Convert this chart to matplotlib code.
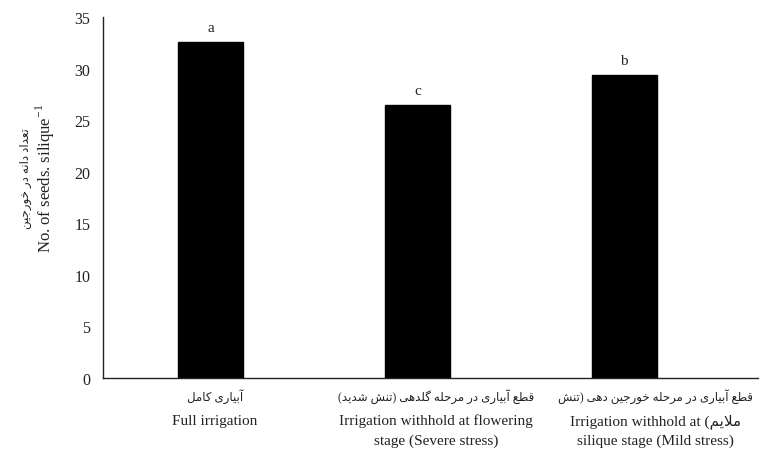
import re
import matplotlib
matplotlib.use("Agg")
import matplotlib.pyplot as plt
import matplotlib.transforms as mtransforms

# data
categories_fa = ["آبیاری کامل",
                 "قطع آبیاری در مرحله گلدهی (تنش شدید)",
                 "قطع آبیاری در مرحله خورجین دهی (تنش"]
categories_en = [["Full irrigation"],
                 ["Irrigation withhold at flowering", "stage (Severe stress)"],
                 ["Irrigation withhold at", "silique stage (Mild stress)"]]
third_tail_fa = "ملایم)"
seeds_per_silique = [32.6, 26.5, 29.4]
group_letters = ["a", "c", "b"]
yticks = [0, 5, 10, 15, 20, 25, 30, 35]
ylabel_fa = "تعداد دانه در خورجین"
ylabel_en = r"No. of seeds. silique$^{\mathrm{-1}}$"

# minimal Persian shaping (presentation forms) + right-to-left ordering,
# since matplotlib lays glyphs out left to right without shaping
FORMS = {
    'ا': ('\uFE8D', '\uFE8E'), 'آ': ('\uFE81', '\uFE82'),
    'د': ('\uFEA9', '\uFEAA'), 'ر': ('\uFEAD', '\uFEAE'),
    'و': ('\uFEED', '\uFEEE'),
    'ب': ('\uFE8F', '\uFE90', '\uFE91', '\uFE92'),
    'ت': ('\uFE95', '\uFE96', '\uFE97', '\uFE98'),
    'ج': ('\uFE9D', '\uFE9E', '\uFE9F', '\uFEA0'),
    'ح': ('\uFEA1', '\uFEA2', '\uFEA3', '\uFEA4'),
    'خ': ('\uFEA5', '\uFEA6', '\uFEA7', '\uFEA8'),
    'ش': ('\uFEB5', '\uFEB6', '\uFEB7', '\uFEB8'),
    'ط': ('\uFEC1', '\uFEC2', '\uFEC3', '\uFEC4'),
    'ع': ('\uFEC9', '\uFECA', '\uFECB', '\uFECC'),
    'ق': ('\uFED5', '\uFED6', '\uFED7', '\uFED8'),
    'ل': ('\uFEDD', '\uFEDE', '\uFEDF', '\uFEE0'),
    'م': ('\uFEE1', '\uFEE2', '\uFEE3', '\uFEE4'),
    'ن': ('\uFEE5', '\uFEE6', '\uFEE7', '\uFEE8'),
    'ه': ('\uFEE9', '\uFEEA', '\uFEEB', '\uFEEC'),
    'ک': ('\uFB8E', '\uFB8F', '\uFB90', '\uFB91'),
    'گ': ('\uFB92', '\uFB93', '\uFB94', '\uFB95'),
    'ی': ('\uFBFC', '\uFBFD', '\uFBFE', '\uFBFF'),
}
LAMALEF = {'ا': ('\uFEFB', '\uFEFC'), 'آ': ('\uFEF5', '\uFEF6')}
MIRROR = str.maketrans('()', ')(')


def is_dual(c):
    return c in FORMS and len(FORMS[c]) == 4


def shape_run(s):
    out = []
    i = 0
    while i < len(s):
        c = s[i]
        link_prev = i > 0 and is_dual(s[i - 1])
        if c == 'ل' and i + 1 < len(s) and s[i + 1] in LAMALEF:
            out.append(LAMALEF[s[i + 1]][1 if link_prev else 0])
            i += 2
            continue
        if c not in FORMS:
            out.append(c)
            i += 1
            continue
        f = FORMS[c]
        link_next = is_dual(c) and i + 1 < len(s) and s[i + 1] in FORMS
        if len(f) == 2:
            out.append(f[1] if link_prev else f[0])
        else:
            out.append(f[[[0, 2], [1, 3]][link_prev][link_next]])
        i += 1
    return ''.join(out)


def fa(text):
    shaped = re.sub(r'[\u0600-\u06FF]+', lambda m: shape_run(m.group()), text)
    return shaped[::-1].translate(MIRROR)


plt.rcParams['font.family'] = ['Liberation Serif', 'DejaVu Sans']
plt.rcParams['mathtext.fontset'] = 'custom'
plt.rcParams['mathtext.rm'] = 'Liberation Serif'

fig = plt.figure(figsize=(7.6, 4.52), dpi=100)
ax = fig.add_axes([0.1355, 0.1615, 0.8615, 0.7985])

x = list(range(len(seeds_per_silique)))
ax.bar(x, seeds_per_silique, width=0.315, color='black', edgecolor='black')
for xi, v, letter in zip(x, seeds_per_silique, group_letters):
    ax.text(xi, v + 0.75, letter, ha='center', va='bottom', fontsize=11, color='#222222')

ax.set_xlim(-0.52, 2.645)
ax.set_ylim(0, 35)
ax.set_yticks(yticks)
ax.tick_params(axis='y', length=0, pad=9, labelsize=11.5, labelcolor='#222222')
ax.set_xticks([])
for side in ['top', 'right']:
    ax.spines[side].set_visible(False)
for side in ['left', 'bottom']:
    ax.spines[side].set_color('#222222')
    ax.spines[side].set_linewidth(1.0)

# category labels (Persian line then English lines), slightly offset like the source
trans = mtransforms.blended_transform_factory(ax.transData, ax.transAxes)
label_shift = [0.02, 1.09, 2.15]
for i in x:
    ax.text(label_shift[i], -0.05, fa(categories_fa[i]), transform=trans,
            ha='center', va='center', fontsize=8.5, color='#222222')
    for j, line in enumerate(categories_en[i]):
        if i == 2 and j == 0:
            line = line + " " + fa(third_tail_fa)
        ax.text(label_shift[i], -0.117 - 0.056 * j, line, transform=trans,
                ha='center', va='center', fontsize=11, color='#222222')

fig.text(0.034, 0.606, fa(ylabel_fa), rotation=90, ha='center', va='center',
         fontsize=8.5, color='#222222')
fig.text(0.060, 0.606, ylabel_en, rotation=90, ha='center', va='center',
         fontsize=12, color='#222222')

fig.savefig('out.png', dpi=100)
